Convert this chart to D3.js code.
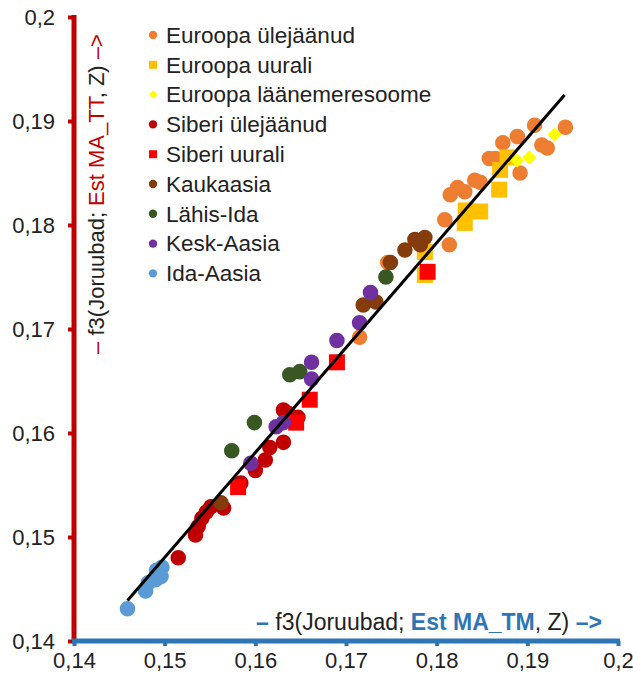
<!DOCTYPE html>
<html>
<head>
<meta charset="utf-8">
<script src="https://cdn.jsdelivr.net/npm/d3@7"></script>
<style>
  html, body { margin: 0; padding: 0; background: #fff; }
  svg { display: block; }
  .tick text { font-family: "Liberation Sans", Arial, sans-serif; font-size: 22px; fill: #222; }
  .lbl { font-family: "Liberation Sans", Arial, sans-serif; }
</style>
</head>
<body>
<svg id="chart" width="633" height="681"></svg>
<script>
// Axis ticks (both axes share the same range)
const tickValues = [0.14, 0.15, 0.16, 0.17, 0.18, 0.19, 0.2];

// Series: f3 with Est MA_TM (x) vs f3 with Est MA_TT (y)
const seriesNames = ["Euroopa ülejäänud", "Euroopa uurali", "Euroopa läänemeresoome",
  "Siberi ülejäänud", "Siberi uurali", "Kaukaasia", "Lähis-Ida", "Kesk-Aasia", "Ida-Aasia"];
const seriesColors = ["#ED7D31", "#FFC000", "#FFFF00", "#C00000", "#FF0000",
  "#843C0C", "#385723", "#7030A0", "#5B9BD5"];
const seriesShapes = ["circle", "square", "diamond", "circle", "square",
  "circle", "circle", "circle", "circle"];

const euroopaUlejaanud = [
  [0.1715, 0.1692], [0.1746, 0.1764], [0.1814, 0.1781], [0.1809, 0.1805],
  [0.1815, 0.1829], [0.1823, 0.1836], [0.1831, 0.1832], [0.1842, 0.1843],
  [0.1848, 0.1841], [0.1858, 0.1864], [0.1865, 0.1864], [0.1873, 0.1879],
  [0.1889, 0.1885], [0.1908, 0.1896], [0.1916, 0.1877], [0.1922, 0.1874],
  [0.1942, 0.1894], [0.1892, 0.1850]
];
const euroopaUurali = [
  [0.1787, 0.1774], [0.1787, 0.1752], [0.1831, 0.1802], [0.1832, 0.1814],
  [0.1848, 0.1813], [0.1869, 0.1834], [0.1870, 0.1853], [0.1878, 0.1865]
];
const euroopaLaanemeresoome = [
  [0.1889, 0.1862], [0.1902, 0.1865], [0.1930, 0.1887]
];
const siberiUlejaanud = [
  [0.1515, 0.1480], [0.1534, 0.1502], [0.1537, 0.1510], [0.1541, 0.1518],
  [0.1546, 0.1524], [0.1551, 0.1529], [0.1565, 0.1528], [0.1584, 0.1552],
  [0.1600, 0.1564], [0.1611, 0.1574], [0.1616, 0.1586], [0.1631, 0.1591],
  [0.1636, 0.1619], [0.1647, 0.1615], [0.1631, 0.1622]
];
const siberiUurali = [
  [0.1581, 0.1548], [0.1645, 0.1610], [0.1660, 0.1632], [0.1690, 0.1668],
  [0.1790, 0.1755]
];
const kaukaasia = [
  [0.1562, 0.1533], [0.1719, 0.1723], [0.1733, 0.1726], [0.1749, 0.1764],
  [0.1765, 0.1776], [0.1776, 0.1786], [0.1782, 0.1781], [0.1787, 0.1788]
];
const lahisIda = [
  [0.1574, 0.1583], [0.1599, 0.1610], [0.1638, 0.1656], [0.1649, 0.1659],
  [0.1744, 0.1750]
];
const keskAasia = [
  [0.1595, 0.1571], [0.1623, 0.1606], [0.1631, 0.1610], [0.1662, 0.1668],
  [0.1662, 0.1652], [0.1690, 0.1689], [0.1715, 0.1706], [0.1727, 0.1735]
];
const idaAasia = [
  [0.1459, 0.1431], [0.1479, 0.1448], [0.1482, 0.1456], [0.1490, 0.1459],
  [0.1496, 0.1462], [0.1497, 0.1471], [0.1491, 0.1468]
];
const seriesValues = [euroopaUlejaanud, euroopaUurali, euroopaLaanemeresoome,
  siberiUlejaanud, siberiUurali, kaukaasia, lahisIda, keskAasia, idaAasia];

// Linear trend line endpoints
const trendLine = [[0.1459, 0.1439], [0.1941, 0.1925]];

const svg = d3.select("#chart");
const x = d3.scaleLinear().domain([0.14, 0.2]).range([74, 618]);
const y = d3.scaleLinear().domain([0.14, 0.2]).range([641, 17]);
const fmt = v => d3.format("~g")(v).replace(".", ",");

// Y axis (red)
const yAxis = svg.append("g").attr("transform", `translate(${x(0.14)},0)`)
  .call(d3.axisLeft(y).tickValues(tickValues).tickFormat(fmt).tickSizeInner(6).tickSizeOuter(0).tickPadding(13));
yAxis.select(".domain").attr("stroke", "#C00000").attr("stroke-width", 5)
  .attr("d", `M0,${y(0.2) - 2}V${y(0.14) + 2}`);
yAxis.selectAll(".tick line").attr("stroke", "#C00000").attr("stroke-width", 4);

// X axis (blue)
const xAxis = svg.append("g").attr("transform", `translate(0,${y(0.14)})`)
  .call(d3.axisBottom(x).tickValues(tickValues).tickFormat(fmt).tickSizeInner(5).tickSizeOuter(0).tickPadding(6));
xAxis.select(".domain").attr("stroke", "#2E75B6").attr("stroke-width", 5)
  .attr("d", `M${x(0.14) - 2},0H${x(0.2) + 2}`);
xAxis.selectAll(".tick line").attr("stroke", "#2E75B6").attr("stroke-width", 4);

// Markers
function markerPath(shape, big) {
  if (shape === "circle") return d3.symbol(d3.symbolCircle, big ? 190 : 55)();
  return d3.symbol(d3.symbolSquare, big ? (shape === "square" ? 256 : 100) : (shape === "square" ? 64 : 36))();
}
function markerTransform(shape, px, py) {
  return shape === "diamond" ? `translate(${px},${py}) rotate(45)` : `translate(${px},${py})`;
}

const plot = svg.append("g");
seriesValues.forEach((pts, i) => {
  plot.append("g").selectAll("path").data(pts).join("path")
    .attr("d", markerPath(seriesShapes[i], true))
    .attr("transform", d => markerTransform(seriesShapes[i], x(d[0]), y(d[1])))
    .attr("fill", seriesColors[i]);
});

// Trend line
svg.append("line")
  .attr("x1", x(trendLine[0][0])).attr("y1", y(trendLine[0][1]))
  .attr("x2", x(trendLine[1][0])).attr("y2", y(trendLine[1][1]))
  .attr("stroke", "#000").attr("stroke-width", 3);

// Legend
const legend = svg.append("g");
seriesNames.forEach((name, i) => {
  const cy = 35 + i * 29.8;
  legend.append("path").attr("d", markerPath(seriesShapes[i], false))
    .attr("transform", markerTransform(seriesShapes[i], 153, cy))
    .attr("fill", seriesColors[i]);
  legend.append("text").attr("class", "lbl")
    .attr("x", 166).attr("y", cy).attr("dy", "0.35em")
    .attr("font-size", 22.5).attr("fill", "#222").text(name);
});

// Axis titles
function title(parts, size, transform) {
  const t = svg.append("text").attr("class", "lbl").attr("font-size", size)
    .attr("text-anchor", "middle").attr("transform", transform);
  parts.forEach(p => t.append("tspan").attr("fill", p[1]).attr("font-weight", p[2] || "normal").text(p[0]));
}
title([["– ", "#C00000"], ["f3(Joruubad; ", "#222"], ["Est MA_TT", "#C00000"], [", Z) ", "#222"], ["–>", "#C00000"]],
  22, "translate(104,194) rotate(-90)");
title([["– ", "#2E75B6", "bold"], ["f3(Joruubad; ", "#222"], ["Est MA_TM", "#2E75B6", "bold"], [", Z) ", "#222"], ["–>", "#2E75B6", "bold"]],
  23, "translate(429,630)");
</script>
</body>
</html>
